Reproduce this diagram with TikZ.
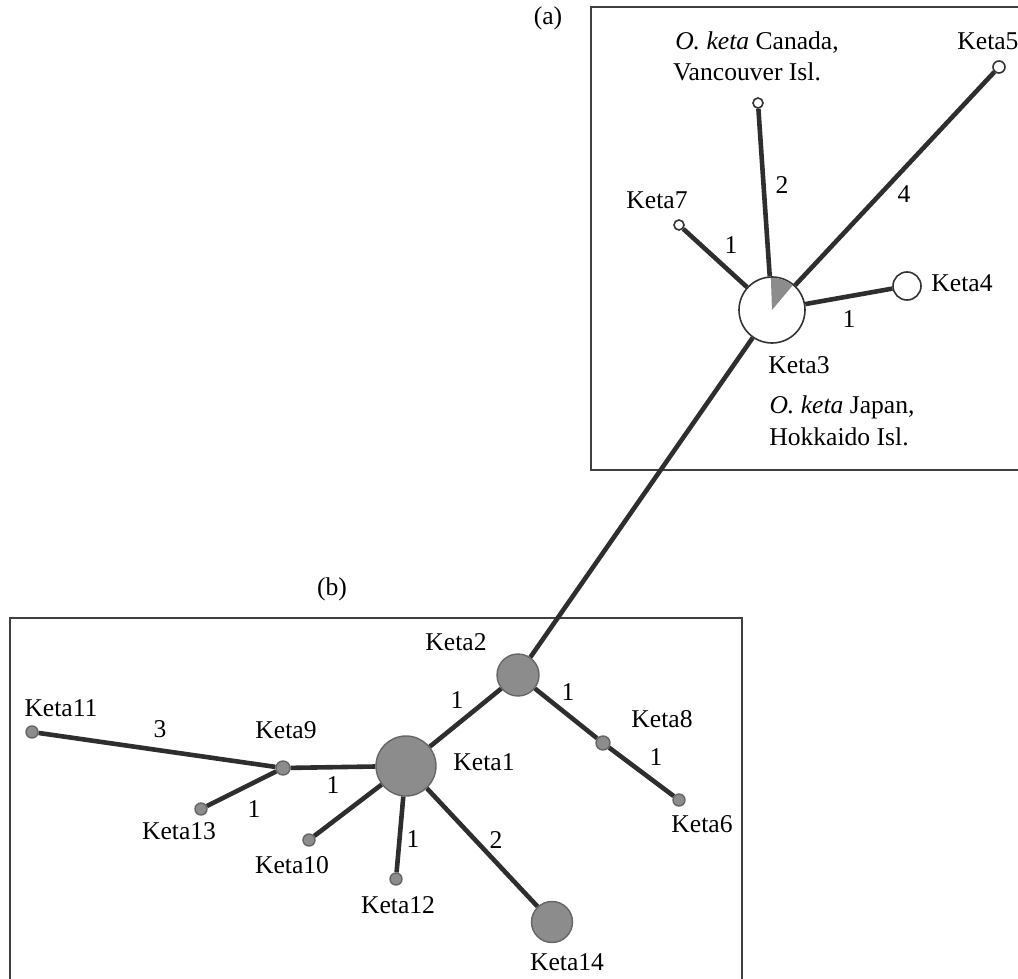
\documentclass[tikz,border=0pt]{standalone}
\usepackage{fontspec}
\setmainfont{Liberation Serif}
\begin{document}
\begin{tikzpicture}[x=0.5pt,y=-0.5pt,
  lbl/.style={anchor=base,inner sep=0pt,font=\fontsize{12.8}{15}\selectfont},
  wnode/.style={circle,draw=black!80,line width=0.8pt,fill=white,inner sep=0pt},
  gnode/.style={circle,draw=black!60,line width=0.7pt,fill=black!45,inner sep=0pt},
  edge/.style={draw=black!82,line width=2.3pt},
  frame/.style={draw=black!75,line width=0.75pt}]
\useasboundingbox (0,0) rectangle (1018,979);
% frames
\draw[frame] (591,7) rectangle (1030,470);
\draw[frame] (10,618) rectangle (742,990);
% nodes (a)
\node[wnode,minimum size=33pt] (k3) at (772,310) {};
\node[wnode,minimum size=14pt] (k4) at (907,286) {};
\node[wnode,minimum size=5pt] (kc) at (758,103) {};
\node[wnode,minimum size=6pt] (k5) at (999,67) {};
\node[wnode,minimum size=5pt] (k7) at (679,225) {};
\fill[black!45] (k3.center) -- ++(50:16.1pt) arc[start angle=50,end angle=92,radius=16.1pt] -- cycle;
% nodes (b)
\node[gnode,minimum size=21pt] (k2) at (518,675) {};
\node[gnode,minimum size=30pt] (k1) at (406,766) {};
\node[gnode,minimum size=20.5pt] (k14) at (552,922) {};
\node[gnode,minimum size=7pt] (k9) at (283,768) {};
\node[gnode,minimum size=6pt] (k11) at (32,732) {};
\node[gnode,minimum size=6pt] (k13) at (201,809) {};
\node[gnode,minimum size=6pt] (k10) at (309,840) {};
\node[gnode,minimum size=6pt] (k12) at (396,879) {};
\node[gnode,minimum size=7pt] (k8) at (603,743) {};
\node[gnode,minimum size=6pt] (k6) at (679,800) {};
% edges
\draw[edge] (k3) -- (kc);
\draw[edge] (k3) -- (k5);
\draw[edge] (k3) -- (k7);
\draw[edge] (k3) -- (k4);
\draw[edge] (k3) -- (k2);
\draw[edge] (k2) -- (k1);
\draw[edge] (k2) -- (k8);
\draw[edge] (k8) -- (k6);
\draw[edge] (k1) -- (k9);
\draw[edge] (k1) -- (k10);
\draw[edge] (k1) -- (k12);
\draw[edge] (k1) -- (k14);
\draw[edge] (k9) -- (k11);
\draw[edge] (k9) -- (k13);
% labels (a)
\node[lbl] (la) at (548,25) {(a)};
\node[lbl] (lcan1) at (757,50) {\textit{O. keta} Canada,};
\node[lbl] (lcan2) at (747,81) {Vancouver Isl.};
\node[lbl,anchor=base west] (l5) at (957,50) {Keta5};
\node[lbl] (e2) at (782,193) {2};
\node[lbl] (e4) at (904,202) {4};
\node[lbl] (l7) at (657,208) {Keta7};
\node[lbl] (e7) at (731,253) {1};
\node[lbl] (l4) at (962,292) {Keta4};
\node[lbl] (e4b) at (849,327) {1};
\node[lbl] (l3) at (799,373) {Keta3};
\node[lbl] (ljp1) at (842,413) {\textit{O. keta} Japan,};
\node[lbl] (ljp2) at (839,445) {Hokkaido Isl.};
% labels (b)
\node[lbl] (lb) at (332,595) {(b)};
\node[lbl] (l2) at (456,650) {Keta2};
\node[lbl] (l11) at (61,716) {Keta11};
\node[lbl] (e11) at (160,737) {3};
\node[lbl] (l9) at (286,738) {Keta9};
\node[lbl] (e9) at (333,793) {1};
\node[lbl] (e13) at (254,817) {1};
\node[lbl] (l13) at (179,839) {Keta13};
\node[lbl] (l10) at (292,873) {Keta10};
\node[lbl] (e12) at (413,847) {1};
\node[lbl] (l12) at (398,913) {Keta12};
\node[lbl] (e1) at (457,708) {1};
\node[lbl] (l1) at (484,770) {Keta1};
\node[lbl] (e8) at (568,700) {1};
\node[lbl] (l8) at (662,727) {Keta8};
\node[lbl] (e6) at (656,765) {1};
\node[lbl] (l6) at (702,832) {Keta6};
\node[lbl] (e14) at (496,848) {2};
\node[lbl] (l14) at (567,970) {Keta14};
\end{tikzpicture}
\end{document}
